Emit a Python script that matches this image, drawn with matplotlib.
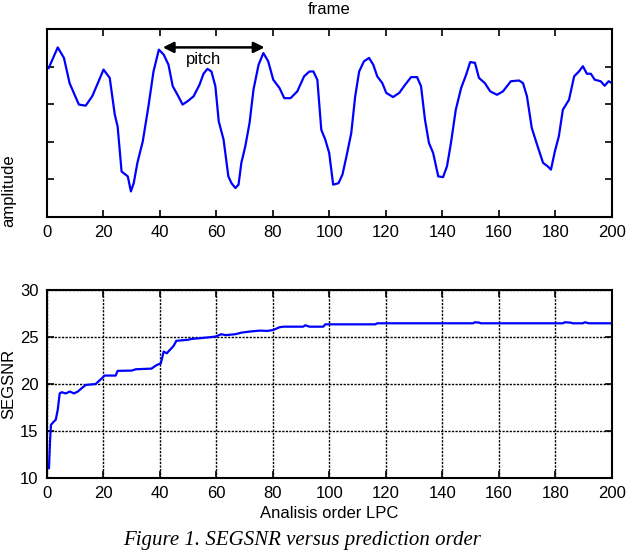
import matplotlib
matplotlib.use("Agg")
import matplotlib.pyplot as plt

# frame waveform (amplitude, arbitrary units)
frame_x = [0.6, 3.8, 6, 8, 10, 11.3, 13.7, 16, 18, 20, 22.2, 24, 25, 26.4, 28.6, 29.7, 30.7,
           32, 33.9, 35.9, 37.7, 39.6, 41.3, 43, 44.5, 46.2, 48, 49.8, 51.9, 54, 55.4, 56.8,
           58.2, 59.6, 60.8, 62.5, 64.2, 65.3, 66.7, 67.8, 68.8, 70.2, 71.7, 73.1, 74.9, 76.6,
           78.3, 80.1, 82.3, 84, 86.2, 88.6, 91, 92.9, 94.3, 95.7, 97.1, 98.5, 99.9, 101.3,
           103.2, 104.6, 106, 107.7, 109.1, 110.5, 112.2, 114, 115.5, 116.9, 118.7, 120.1,
           122.5, 124.7, 126.8, 128.9, 131, 132.4, 133.8, 135.2, 136.7, 138.5, 140.2, 141.6,
           143, 144.7, 146.6, 148.4, 149.8, 151.5, 152.9, 155, 156.9, 159.3, 161.4, 164.2,
           167.1, 168.5, 169.9, 171.6, 173.5, 175.6, 177.2, 178.4, 179.8, 181.2, 182.6, 184.8,
           186.6, 188.3, 189.7, 191.1, 192.5, 193.9, 196, 197.4, 198.8, 200]
frame_y = [3.96, 4.51, 4.23, 3.56, 3.21, 2.99, 2.96, 3.21, 3.56, 3.92, 3.70, 2.72, 2.41, 1.21,
           1.08, 0.68, 0.90, 1.44, 2.01, 2.94, 3.87, 4.45, 4.32, 4.05, 3.48, 3.25, 2.99, 3.08,
           3.21, 3.52, 3.81, 3.94, 3.87, 3.48, 2.54, 2.06, 1.08, 0.90, 0.77, 0.86, 1.44, 1.88,
           2.50, 3.39, 4.05, 4.36, 4.14, 3.65, 3.43, 3.16, 3.16, 3.34, 3.74, 3.87, 3.87, 3.65,
           2.32, 2.06, 1.70, 0.86, 0.90, 1.13, 1.61, 2.23, 3.21, 3.87, 4.14, 4.23, 4.05, 3.74,
           3.56, 3.30, 3.19, 3.30, 3.52, 3.72, 3.72, 3.48, 2.59, 1.97, 1.70, 1.08, 1.06, 1.35,
           1.97, 2.85, 3.43, 3.79, 4.12, 4.10, 3.70, 3.56, 3.34, 3.25, 3.34, 3.61, 3.63, 3.56,
           3.21, 2.37, 1.92, 1.44, 1.35, 1.26, 1.75, 2.15, 2.85, 3.12, 3.74, 3.87, 4.01, 3.81,
           3.81, 3.65, 3.61, 3.49, 3.61, 3.56]

# SEGSNR vs LPC order
order = [0.7, 1.1, 1.4, 2.4, 3.1, 3.8, 4.5, 5.2, 6.6, 8.1, 9.5, 10.9, 12.3, 13.7, 17.2, 19.4,
         20.4, 24.3, 25, 30, 31.4, 37, 38.7, 40.3, 41.3, 42.4, 43.4, 44.8, 45.8, 49.8, 51.2,
         54, 59.6, 61.7, 63.2, 66.7, 68.9, 71.7, 75.2, 78, 80.1, 82.3, 83.7, 90.7, 91.4, 92.9,
         97.8, 98.5, 116.2, 116.9, 150.8, 151.5, 153, 153.6, 182.6, 183.3, 185.4, 186.1,
         189.7, 190.4, 191.8, 200]
segsnr = [11.06, 14.07, 15.66, 16.0, 16.2, 17.26, 19.0, 19.13, 19.0, 19.2, 19.0, 19.2, 19.56,
          19.9, 20.0, 20.6, 20.9, 20.9, 21.4, 21.43, 21.57, 21.64, 22.0, 22.2, 23.45, 23.27,
          23.6, 24.05, 24.6, 24.7, 24.8, 24.87, 25.04, 25.3, 25.2, 25.3, 25.47, 25.58, 25.68,
          25.65, 25.75, 26.04, 26.1, 26.1, 26.25, 26.1, 26.1, 26.35, 26.35, 26.46, 26.46,
          26.57, 26.53, 26.46, 26.46, 26.57, 26.53, 26.46, 26.46, 26.57, 26.46, 26.46]

xticks = list(range(0, 201, 20))
amp_ticks = [1, 2, 3, 4]
snr_ticks = [10, 15, 20, 25, 30]

plt.rcParams['font.family'] = ['Liberation Sans', 'DejaVu Sans']
plt.rcParams['font.size'] = 12

fig = plt.figure(figsize=(6.3, 5.52), dpi=100)

# top: speech frame
ax1 = fig.add_axes([0.0746, 0.6069, 0.8968, 0.3406])
ax1.plot(frame_x, frame_y, color='#0000ff', lw=1.6)
ax1.set_xlim(0, 200)
ax1.set_ylim(0, 5)
ax1.set_xticks(xticks)
ax1.set_yticks(amp_ticks)
ax1.set_yticklabels([])
ax1.tick_params(direction='in', top=True, right=True, length=5, width=1.2, pad=6)
ax1.set_title('frame', pad=11, fontsize=12)
ax1.set_ylabel('amplitude', fontsize=12)
ax1.yaxis.set_label_coords(-0.055, 0.14)
ax1.annotate('', xy=(40, 4.51), xytext=(78, 4.51),
             arrowprops=dict(arrowstyle='<|-|>', color='black', lw=1.8, mutation_scale=16))
ax1.text(55.5, 4.2, 'pitch', ha='center', va='center', fontsize=12)

# bottom: SEGSNR
ax2 = fig.add_axes([0.0746, 0.134, 0.8968, 0.3406])
ax2.plot(order, segsnr, color='#0000ff', lw=1.6)
ax2.set_xlim(0, 200)
ax2.set_ylim(10, 30)
ax2.set_xticks(xticks)
ax2.set_yticks(snr_ticks)
ax2.grid(True, color='black', linestyle=(0, (1.6, 1.0)), lw=1.0)
ax2.tick_params(direction='in', top=True, right=True, length=5, width=1.2, pad=6)
ax2.set_xlabel('Analisis order LPC', fontsize=12, labelpad=3)
ax2.set_ylabel('SEGSNR', fontsize=12)
ax2.yaxis.set_label_coords(-0.055, 0.5)

for ax in (ax1, ax2):
    for s in ax.spines.values():
        s.set_linewidth(1.5)

fig.text(0.48, 0.004, 'Figure 1. SEGSNR versus prediction order', ha='center', va='bottom',
         fontsize=15, style='italic', family='Liberation Serif')

fig.savefig('out.png', dpi=100)
